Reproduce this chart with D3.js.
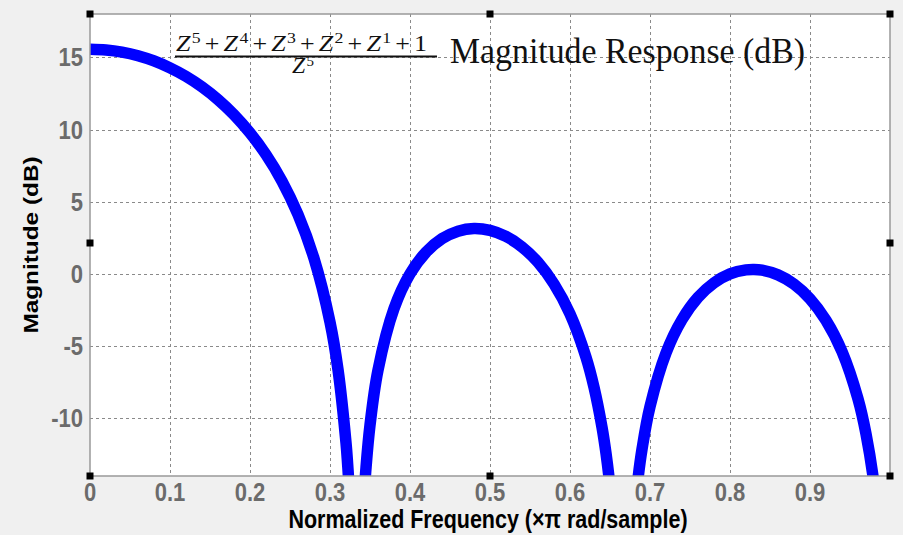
<!DOCTYPE html>
<html lang="en">
<head>
<meta charset="UTF-8">
<title>Magnitude Response</title>
<script src="https://d3js.org/d3.v7.min.js"></script>
<style>
    body { margin: 0; background: #f0f0f0; }
    .tick-label { font-family: "Liberation Sans", Arial, sans-serif; font-weight: bold; fill: #6b6b6b; }
    .axis-label { font-family: "Liberation Sans", Arial, sans-serif; font-weight: bold; fill: #000; }
    .title { font-family: "Liberation Serif", "Times New Roman", serif; fill: #111; }
</style>
</head>
<body>
<svg width="903" height="535"></svg>
<script>
    // normalized frequency (x pi rad/sample) and magnitude (dB)
    const freq = [0, 0.02, 0.04, 0.06, 0.08, 0.10, 0.12, 0.14, 0.16, 0.18, 0.20, 0.22, 0.24, 0.26, 0.28,
        0.30, 0.31, 0.32, 0.322, 0.324, 0.327,
        0.34, 0.342, 0.345, 0.35, 0.36, 0.38, 0.40, 0.42, 0.44, 0.46, 0.48, 0.50, 0.52, 0.54, 0.56,
        0.58, 0.60, 0.62, 0.63, 0.64, 0.645, 0.65, 0.655,
        0.68, 0.685, 0.69, 0.70, 0.72, 0.74, 0.76, 0.78, 0.80, 0.82, 0.83, 0.84, 0.86, 0.88, 0.90,
        0.92, 0.94, 0.96, 0.97, 0.98, 0.99];
    const magDb = [15.56, 15.51, 15.36, 15.11, 14.75, 14.27, 13.68, 12.95, 12.07, 11.02, 9.76, 8.26, 6.42, 4.11, 1.07,
        -3.34, -6.63, -11.70, -13.15, -14.88, -18.3,
        -18.2, -15.95, -13.44, -10.48, -6.67, -2.41, 0.0, 1.50, 2.44, 2.96, 3.14, 3.01, 2.59, 1.87, 0.80,
        -0.70, -2.77, -5.77, -7.85, -10.62, -12.43, -14.73, -17.85,
        -16.89, -14.18, -12.15, -9.20, -5.48, -3.17, -1.63, -0.62, 0.0, 0.28, 0.31, 0.26, -0.07, -0.71, -1.73,
        -3.22, -5.38, -8.66, -11.08, -14.54, -20.5];

    const xTicks = [0, 0.1, 0.2, 0.3, 0.4, 0.5, 0.6, 0.7, 0.8, 0.9];
    const yTicks = [-10, -5, 0, 5, 10, 15];
    const numPowers = ['5', '4', '3', '2', '1'];

    const svg = d3.select('svg');
    const pLeft = 90, pRight = 890, pTop = 14, pBottom = 476;
    const stretch = 1.16; // the screenshot is a bit taller than wide

    let xScale = d3.scaleLinear().domain([0, 1]).range([pLeft, pRight]);
    let yScale = d3.scaleLinear().domain([-14, 18]).range([pBottom, pTop]);

    // plot area
    svg.append('rect')
        .attr('x', pLeft).attr('y', pTop)
        .attr('width', pRight - pLeft).attr('height', pBottom - pTop)
        .attr('fill', '#fff');

    svg.append('clipPath').attr('id', 'clip')
        .append('rect')
        .attr('x', pLeft).attr('y', pTop)
        .attr('width', pRight - pLeft).attr('height', pBottom - pTop);

    // grid
    let grid = svg.append('g')
        .attr('stroke', '#8a8a8a')
        .attr('stroke-width', 1)
        .attr('stroke-dasharray', '3,3');
    grid.selectAll('line.vx')
        .data(xTicks.filter(d => d > 0))
        .enter().append('line')
        .attr('x1', d => Math.round(xScale(d)) + 0.5).attr('x2', d => Math.round(xScale(d)) + 0.5)
        .attr('y1', pTop).attr('y2', pBottom);
    grid.selectAll('line.hy')
        .data(yTicks)
        .enter().append('line')
        .attr('y1', d => Math.round(yScale(d)) + 0.5).attr('y2', d => Math.round(yScale(d)) + 0.5)
        .attr('x1', pLeft).attr('x2', pRight);

    // title: fraction + text
    let title = svg.append('g').attr('class', 'title');
    let num = title.append('text')
        .attr('transform', `translate(176,51) scale(1,${stretch})`)
        .attr('font-size', 19)
        .attr('textLength', 251)
        .attr('lengthAdjust', 'spacingAndGlyphs');
    numPowers.forEach((p, i) => {
        num.append('tspan').attr('font-style', 'italic').attr('dx', i ? 3 : 0).text('Z');
        num.append('tspan').attr('dy', -7).attr('dx', 1).attr('font-size', 13).text(p);
        num.append('tspan').attr('dy', 7).attr('dx', 3).text('+');
    });
    num.append('tspan').attr('dx', 3).text('1');
    title.append('line')
        .attr('x1', 175).attr('x2', 437)
        .attr('y1', 56.5).attr('y2', 56.5)
        .attr('stroke', '#111').attr('stroke-width', 1.8);
    let den = title.append('text')
        .attr('transform', `translate(292,73) scale(1.25,${stretch})`)
        .attr('font-size', 19);
    den.append('tspan').attr('font-style', 'italic').text('Z');
    den.append('tspan').attr('dy', -6).attr('dx', 1).attr('font-size', 12).text('5');
    title.append('text')
        .attr('transform', `translate(450,63) scale(1,${stretch})`)
        .attr('font-size', 30)
        .attr('textLength', 355)
        .attr('lengthAdjust', 'spacingAndGlyphs')
        .text('Magnitude Response (dB)');

    // response curve
    let line = d3.line()
        .x((d, i) => xScale(freq[i]))
        .y(d => yScale(d))
        .curve(d3.curveCatmullRom.alpha(0.5));
    svg.append('path')
        .attr('clip-path', 'url(#clip)')
        .attr('d', line(magDb))
        .attr('fill', 'none')
        .attr('stroke', '#0000ff')
        .attr('stroke-width', 11.5)
        .attr('stroke-linejoin', 'round');

    // box
    svg.append('rect')
        .attr('x', pLeft).attr('y', pTop)
        .attr('width', pRight - pLeft).attr('height', pBottom - pTop)
        .attr('fill', 'none')
        .attr('stroke', '#999')
        .attr('stroke-width', 1.5);

    // tick labels
    svg.append('g').selectAll('text')
        .data(xTicks)
        .enter().append('text')
        .attr('class', 'tick-label')
        .attr('font-size', 22)
        .attr('text-anchor', 'middle')
        .attr('transform', d => `translate(${xScale(d)},501) scale(1,${stretch})`)
        .text(d => d);
    svg.append('g').selectAll('text')
        .data(yTicks)
        .enter().append('text')
        .attr('class', 'tick-label')
        .attr('font-size', 22)
        .attr('text-anchor', 'end')
        .attr('transform', d => `translate(83,${yScale(d) + 9}) scale(1,${stretch})`)
        .text(d => d);

    // axis labels
    svg.append('text')
        .attr('class', 'axis-label')
        .attr('font-size', 21.5)
        .attr('text-anchor', 'middle')
        .attr('transform', `translate(488,528) scale(1,${stretch})`)
        .text('Normalized Frequency (\u00d7\u03c0 rad/sample)');
    svg.append('text')
        .attr('class', 'axis-label')
        .attr('font-size', 21)
        .attr('text-anchor', 'middle')
        .attr('transform', `translate(38,245) scale(1,${stretch}) rotate(-90)`)
        .text('Magnitude (dB)');

    // selection handles
    const handles = [[pLeft, pTop], [(pLeft + pRight) / 2, pTop], [pRight, pTop],
        [pLeft, (pTop + pBottom) / 2 - 2], [pRight, (pTop + pBottom) / 2 - 2],
        [pLeft, pBottom], [(pLeft + pRight) / 2, pBottom], [pRight, pBottom]];
    svg.append('g').selectAll('rect')
        .data(handles)
        .enter().append('rect')
        .attr('x', d => d[0] - 3.5).attr('y', d => d[1] - 3.5)
        .attr('width', 7).attr('height', 7)
        .attr('fill', '#000');
</script>
</body>
</html>
